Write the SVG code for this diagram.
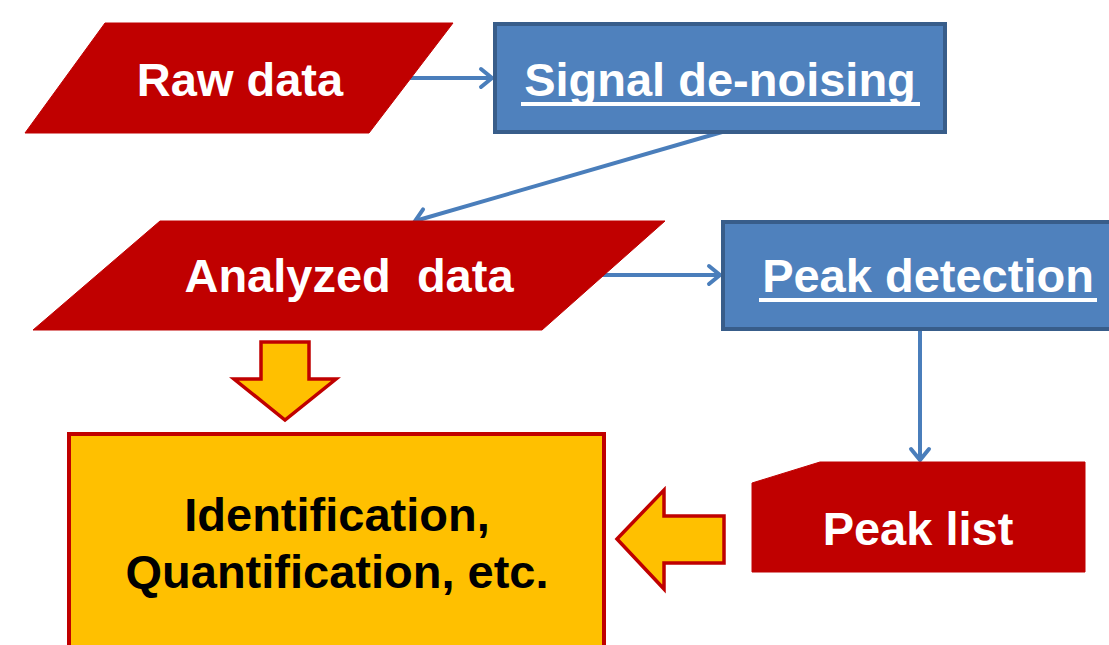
<svg xmlns="http://www.w3.org/2000/svg" width="1109" height="645" viewBox="0 0 1109 645">
<style>
.red{fill:#C00000;stroke:#C00000;stroke-width:1;stroke-linejoin:round}
.blue{fill:#4F81BD;stroke:#385D8A;stroke-width:4}
.yel{fill:#FFC000;stroke:#C00000;stroke-width:3.5}
.lbl{font-family:"Liberation Sans",Arial,sans-serif;font-weight:bold;font-size:47px;text-anchor:middle}
.w{fill:#FFFFFF}
.k{fill:#000000}
.ul{stroke:#FFFFFF;stroke-width:4}
.conn{stroke:#4A7EBB;stroke-width:4;fill:none}
</style>
<defs>
<marker id="ah" markerUnits="userSpaceOnUse" markerWidth="24" markerHeight="24" viewBox="-14 -12 24 24" refX="0" refY="0" orient="auto">
<path d="M-11,-9 L0,0 L-11,9" fill="none" stroke="#4A7EBB" stroke-width="4" stroke-linecap="round"/>
</marker>
</defs>
<g id="connectors">
<line class="conn" x1="410" y1="78" x2="492" y2="78" marker-end="url(#ah)"/>
<line class="conn" x1="722" y1="132" x2="415" y2="221" marker-end="url(#ah)"/>
<line class="conn" x1="601" y1="275" x2="720" y2="275" marker-end="url(#ah)"/>
<line class="conn" x1="920" y1="330" x2="920" y2="460" marker-end="url(#ah)"/>
</g>
<g id="raw-data">
<polygon class="red" points="105,23 453,23 369,133 25,133"/>
<text class="lbl w" x="240" y="96">Raw data</text>
</g>
<g id="signal-denoising">
<rect class="blue" x="495" y="24" width="450" height="108"/>
<text class="lbl w" x="720" y="96">Signal de-noising</text>
<line class="ul" x1="521" y1="104" x2="920" y2="104"/>
</g>
<g id="analyzed-data">
<polygon class="red" points="160,221 665,221 542,330 33,330"/>
<text class="lbl w" x="349" y="292" xml:space="preserve">Analyzed  data</text>
</g>
<g id="peak-detection">
<rect class="blue" x="723" y="222" width="400" height="107"/>
<text class="lbl w" x="928" y="292">Peak detection</text>
<line class="ul" x1="759" y1="300" x2="1097" y2="300"/>
</g>
<g id="peak-list">
<polygon class="red" points="752,483 820,462 1085,462 1085,572 752,572"/>
<text class="lbl w" x="918" y="545">Peak list</text>
</g>
<g id="down-arrow">
<polygon class="yel" points="261,342 309,342 309,379 336,379 285,420 234,379 261,379"/>
</g>
<g id="left-arrow">
<polygon class="yel" points="617,539 664,490 664,516 724,516 724,563 664,563 664,589"/>
</g>
<g id="identification">
<rect class="yel" x="69" y="434" width="535" height="230" style="stroke-width:4"/>
<text class="lbl k" x="337" y="531">Identification,</text>
<text class="lbl k" x="337" y="588">Quantification, etc.</text>
</g>
</svg>
